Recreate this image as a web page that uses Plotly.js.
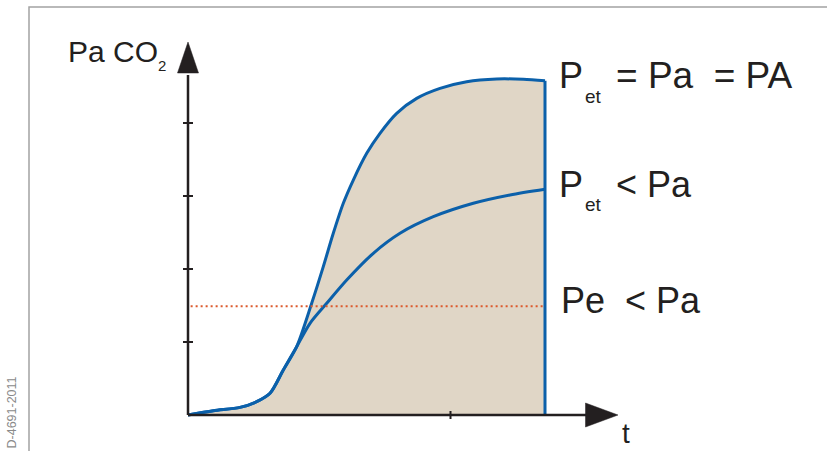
<!DOCTYPE html>
<html>
<head>
<meta charset="utf-8">
<script src="https://cdn.plot.ly/plotly-3.0.1.min.js"></script>
<style>html,body{margin:0;padding:0;background:#fff;}#chart{width:827px;height:451px;}</style>
</head>
<body>
<div id="chart"></div>
<script>
// ---- data (time units, PaCO2 units) ----
const upperX = [0, 0.964, 1.981, 2.617, 3.124, 3.630, 4.141, 4.712, 5.154, 5.535, 5.916, 6.297, 6.808, 7.314, 7.950, 8.712, 9.600, 10.617, 11.760, 12.773, 13.6];
const upperY = [0, 0.059, 0.105, 0.182, 0.297, 0.616, 0.936, 1.530, 2.032, 2.489, 2.900, 3.219, 3.585, 3.859, 4.133, 4.338, 4.475, 4.566, 4.603, 4.599, 4.579];
const lowerX = [0, 0.964, 1.981, 2.617, 3.124, 3.630, 4.141, 4.648, 5.284, 6.046, 7.059, 8.076, 9.345, 10.869, 12.267, 13.6];
const lowerY = [0, 0.059, 0.105, 0.182, 0.297, 0.616, 0.936, 1.256, 1.530, 1.849, 2.215, 2.489, 2.716, 2.900, 3.014, 3.092];
const tEnd = 13.6;          // end of measurement (vertical line)
const endTop = 4.579;
const peLevel = 1.49;       // mixed expired Pe level
const peStart = 0.1;
const yTicks = [1, 2, 3, 4];
const xTicks = [10];
const labels = {
  yTitle: "Pa CO", ySub: "2", xTitle: "t",
  row1P: "P", row1Sub: "et", row1Rest: "= Pa&nbsp;&nbsp;= PA",
  row2P: "P", row2Sub: "et", row2Rest: "&lt; Pa",
  row3: "Pe&nbsp;&nbsp;&lt; Pa",
  code: "D-4691-2011"
};

// ---- layout helpers ----
const W = 827, H = 451;
const ox = 188, oy = 415, sx = 26.25, sy = 73;  // pixel origin and scale
const xRange = [-ox / sx, (W - ox) / sx];
const yRange = [-(H - oy) / sy, oy / sy];
const px = v => v / W;
const py = v => 1 - v / H;
const dxu = p => p / sx;   // pixel -> x units
const dyu = p => p / sy;   // pixel -> y units

const blue = '#0b60aa';
const ink = '#231f20';
const font = 'Liberation Sans, Arial, sans-serif';

const traces = [
  { x: upperX, y: upperY, type: 'scatter', mode: 'lines',
    fill: 'tozeroy', fillcolor: '#e0d6c6',
    line: { color: blue, width: 3, shape: 'spline', smoothing: 0.8 }, hoverinfo: 'skip' },
  { x: lowerX, y: lowerY, type: 'scatter', mode: 'lines',
    line: { color: blue, width: 3, shape: 'spline', smoothing: 0.8 }, hoverinfo: 'skip' },
  { x: [tEnd, tEnd], y: [endTop, 0], type: 'scatter', mode: 'lines',
    line: { color: blue, width: 3 }, hoverinfo: 'skip' },
  { x: [peStart, tEnd], y: [peLevel, peLevel], type: 'scatter', mode: 'lines',
    line: { color: '#dc5a2c', width: 2, dash: '2px,3px' }, hoverinfo: 'skip' }
];

const shapes = [
  // frame
  { type: 'path', xref: 'paper', yref: 'paper', path: `M ${px(29)} ${py(H + 2)} L ${px(29)} ${py(7)} L ${px(W + 2)} ${py(7)}`,
    line: { color: '#a3a3a3', width: 1.5 } },
  // y axis
  { type: 'line', xref: 'x', yref: 'y', x0: 0, x1: 0, y0: 0, y1: yRange[1] - dyu(75), line: { color: ink, width: 2.5 } },
  { type: 'path', xref: 'x', yref: 'y',
    path: `M ${-dxu(10.5)} ${yRange[1] - dyu(73)} L ${dxu(10.5)} ${yRange[1] - dyu(73)} L 0 ${yRange[1] - dyu(42)} Z`,
    fillcolor: ink, line: { color: ink, width: 0.5 } },
  // x axis
  { type: 'line', xref: 'x', yref: 'y', x0: 0, x1: dxu(587 - ox), y0: 0, y1: 0, line: { color: ink, width: 2.5 } },
  { type: 'path', xref: 'x', yref: 'y',
    path: `M ${dxu(585.5 - ox)} ${dyu(12)} L ${dxu(585.5 - ox)} ${-dyu(12)} L ${dxu(618 - ox)} 0 Z`,
    fillcolor: ink, line: { color: ink, width: 0.5 } }
];
yTicks.forEach(t => shapes.push({ type: 'line', xref: 'x', yref: 'y', x0: -dxu(5), x1: dxu(5), y0: t, y1: t,
  line: { color: ink, width: 2 } }));
xTicks.forEach(t => shapes.push({ type: 'line', xref: 'x', yref: 'y', x0: t, x1: t, y0: -dyu(4), y1: dyu(4),
  line: { color: ink, width: 2 } }));

function ann(text, x, y, size, opts) {
  return Object.assign({ text: text, xref: 'paper', yref: 'paper', x: px(x), y: py(y),
    xanchor: 'left', yanchor: 'middle', showarrow: false, borderpad: 0,
    font: { family: font, size: size, color: ink } }, opts || {});
}
const annotations = [
  ann(labels.yTitle, 67, 52, 30),
  ann(labels.ySub, 157, 65, 15),
  ann(labels.row1P, 558, 76, 36),
  ann(labels.row1Sub, 584, 96, 19),
  ann(labels.row1Rest, 615, 76, 37),
  ann(labels.row2P, 558, 184, 36),
  ann(labels.row2Sub, 584, 204, 19),
  ann(labels.row2Rest, 615, 184, 36),
  ann(labels.row3, 560, 300, 36),
  ann(labels.xTitle, 621, 433, 28),
  ann(labels.code, 11.5, 413, 12.5, { xanchor: 'center', textangle: -90, font: { family: font, size: 12.5, color: '#8a8a8a' } })
];

const layout = {
  width: W, height: H, margin: { l: 0, r: 0, t: 0, b: 0 },
  paper_bgcolor: '#fff', plot_bgcolor: '#fff', showlegend: false,
  xaxis: { range: xRange, visible: false, fixedrange: true },
  yaxis: { range: yRange, visible: false, fixedrange: true },
  shapes: shapes, annotations: annotations
};
Plotly.newPlot('chart', traces, layout, { staticPlot: true, displayModeBar: false });
</script>
</body>
</html>
